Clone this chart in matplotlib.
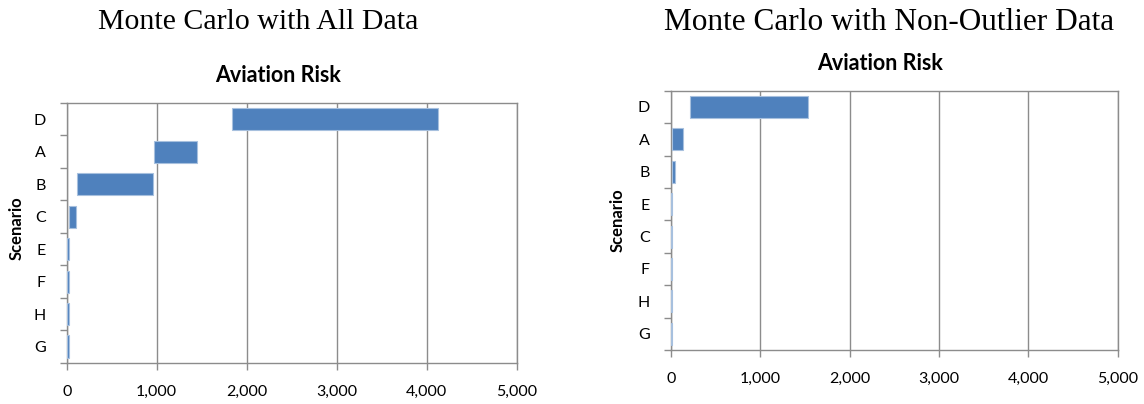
import matplotlib
matplotlib.use("Agg")
import matplotlib.pyplot as plt
from matplotlib.ticker import FixedLocator, FuncFormatter
import numpy as np

# Scenario ranges (low / high) for each Monte Carlo run
all_scenarios = ['D', 'A', 'B', 'C', 'E', 'F', 'H', 'G']
all_low = [1840, 965, 115, 20, 0, 0, 0, 0]
all_high = [4130, 1448, 962, 102, 20, 20, 20, 20]

clean_scenarios = ['D', 'A', 'B', 'E', 'C', 'F', 'H', 'G']
clean_low = [218, 20, 20, 0, 0, 0, 0, 0]
clean_high = [1532, 140, 50, 20, 20, 20, 20, 20]

x_ticks = [0, 1000, 2000, 3000, 4000, 5000]

W, H = 1144, 404
BAR = '#4F81BD'
EDGE = '#A7C0DE'
GRID = '#8C8C8C'
LABEL_FONT = ['Lato', 'DejaVu Sans']

fig = plt.figure(figsize=(W / 100, H / 100), dpi=100)


def px_axes(x0, y_top, x1, y_bot):
    return fig.add_axes([x0 / W, 1 - y_bot / H, (x1 - x0) / W, (y_bot - y_top) / H])


def draw_range_chart(ax, cats, lows, highs):
    n = len(cats)
    y = np.arange(n)
    widths = [h - l for l, h in zip(lows, highs)]
    ax.barh(y, widths, left=lows, height=0.68, color=BAR,
            edgecolor=EDGE, linewidth=0.8, zorder=3)
    ax.set_xlim(x_ticks[0], x_ticks[-1])
    ax.set_ylim(n - 0.5, -0.5)
    ax.xaxis.set_major_locator(FixedLocator(x_ticks))
    ax.xaxis.set_major_formatter(FuncFormatter(lambda v, p: f"{int(v):,}"))
    ax.grid(axis='x', color=GRID, linewidth=1.0, zorder=0)
    ax.set_yticks(y)
    ax.set_yticklabels(cats)
    ax.set_yticks(np.arange(n + 1) - 0.5, minor=True)
    ax.tick_params(axis='y', which='major', length=0, pad=15,
                   labelsize=11.5)
    ax.tick_params(axis='y', which='minor', length=5, color=GRID, width=1.0)
    ax.tick_params(axis='x', which='major', length=5, color=GRID, width=1.0,
                   pad=11, labelsize=11.5)
    for lab in ax.get_xticklabels() + ax.get_yticklabels():
        lab.set_fontfamily(LABEL_FONT)
    for side in ['left', 'bottom', 'top', 'right']:
        ax.spines[side].set_color(GRID)
        ax.spines[side].set_linewidth(1.0)
    ax.set_axisbelow(True)


ax1 = px_axes(66.7, 103, 516.7, 362.7)
draw_range_chart(ax1, all_scenarios, all_low, all_high)
ax2 = px_axes(670.7, 90.7, 1117.7, 350)
draw_range_chart(ax2, clean_scenarios, clean_low, clean_high)

serif = ['Liberation Serif', 'DejaVu Serif']
fig.text(258 / W, 1 - 22 / H, 'Monte Carlo with All Data', family=serif,
         fontsize=21.5, ha='center', va='center')
fig.text(889 / W, 1 - 22 / H, 'Monte Carlo with Non-Outlier Data', family=serif,
         fontsize=22.5, ha='center', va='center')

fig.text(278 / W, 1 - 75 / H, 'Aviation Risk', family=LABEL_FONT,
         fontweight='bold', fontsize=15.5, ha='center', va='center')
fig.text(880 / W, 1 - 63 / H, 'Aviation Risk', family=LABEL_FONT,
         fontweight='bold', fontsize=15.5, ha='center', va='center')

fig.text(17 / W, 1 - 228 / H, 'Scenario', family=LABEL_FONT, fontweight='bold',
         fontsize=12, rotation=90, ha='center', va='center')
fig.text(618 / W, 1 - 220 / H, 'Scenario', family=LABEL_FONT, fontweight='bold',
         fontsize=12, rotation=90, ha='center', va='center')

fig.savefig('out.png', dpi=100)
